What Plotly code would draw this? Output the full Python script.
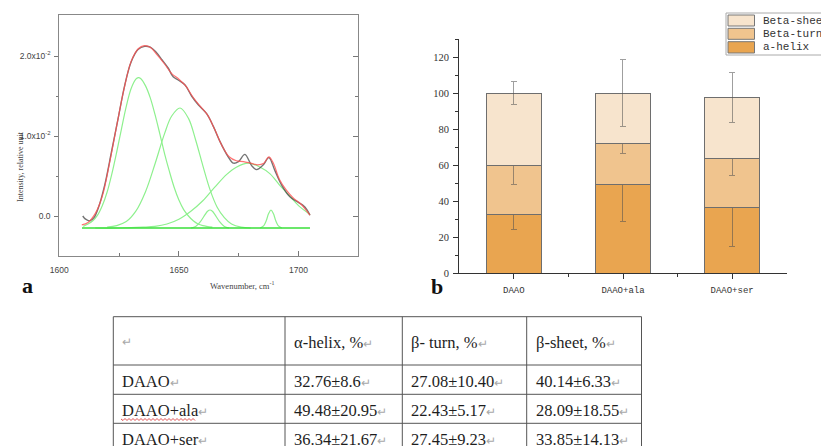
import plotly.graph_objects as go

W, H = 829, 446
OFF = 8  # the page body adds an 8px margin; positions below are window pixels

# ---------------- Panel a: FTIR amide I band deconvolution ----------------
wn_data = [1609.8, 1611.0, 1612.8, 1614.5, 1616.3, 1619.0, 1621.8, 1624.6, 1627.4, 1630.1,
           1632.9, 1635.7, 1638.0, 1640.4, 1643.0, 1645.5, 1647.6, 1649.7, 1652.5, 1655.3,
           1658.1, 1661.6, 1664.4, 1667.2, 1670.6, 1672.8, 1674.9, 1677.6, 1680.4, 1682.5,
           1685.3, 1687.6, 1690.1, 1692.9, 1696.4, 1699.9, 1702.0, 1703.5, 1704.8]
int_data = [0.0000, -0.0004, -0.0006, -0.0002, 0.0010, 0.0039, 0.0080, 0.0122, 0.0164, 0.0193,
            0.0208, 0.0212, 0.0211, 0.0205, 0.0195, 0.0185, 0.0174, 0.0170, 0.0164, 0.0150,
            0.0139, 0.0128, 0.0112, 0.0093, 0.0074, 0.0066, 0.0068, 0.0077, 0.0063, 0.0058,
            0.0064, 0.0073, 0.0057, 0.0039, 0.0024, 0.0017, 0.0013, 0.0008, 0.0001]

wn_fit = [1609.4, 1612.0, 1615.0, 1618.0, 1621.0, 1624.0, 1627.0, 1630.0, 1633.0, 1635.5,
          1638.0, 1641.0, 1644.0, 1647.0, 1650.0, 1653.0, 1656.0, 1659.0, 1662.0, 1665.0,
          1668.0, 1671.0, 1674.0, 1677.0, 1680.0, 1683.0, 1685.5, 1687.6, 1689.5, 1692.0,
          1695.0, 1698.0, 1701.0, 1703.0, 1704.8]
int_fit = [-0.0011, -0.0008, 0.0003, 0.0025, 0.0066, 0.0113, 0.0158, 0.0193, 0.0209, 0.0213,
           0.0211, 0.0201, 0.0190, 0.0178, 0.0171, 0.0162, 0.0148, 0.0137, 0.0126, 0.0108,
           0.0088, 0.0074, 0.0069, 0.0068, 0.0066, 0.0064, 0.0066, 0.0074, 0.0066, 0.0046,
           0.0032, 0.0022, 0.0015, 0.0008, 0.0001]

g1_wn = [1610, 1612, 1614, 1616, 1618, 1620, 1622, 1624, 1626, 1628, 1630, 1632, 1633, 1634,
         1636, 1638, 1640, 1642, 1644, 1646, 1648, 1650, 1652, 1654, 1656, 1658, 1660, 1664]
g1_int = [-0.0013, -0.0010, -0.0006, 0.0001, 0.0013, 0.0030, 0.0053, 0.0080, 0.0109, 0.0137,
          0.0159, 0.0171, 0.0173, 0.0172, 0.0163, 0.0148, 0.0127, 0.0103, 0.0078, 0.0056,
          0.0036, 0.0020, 0.0008, 0.0000, -0.0006, -0.0010, -0.0012, -0.0014]

g2_wn = [1620, 1624, 1628, 1632, 1636, 1640, 1644, 1647, 1650.5, 1654, 1657, 1660, 1663,
         1666, 1669, 1672, 1676, 1680]
g2_int = [-0.0014, -0.0012, -0.0007, 0.0006, 0.0030, 0.0065, 0.0103, 0.0125, 0.0135, 0.0122,
          0.0095, 0.0063, 0.0033, 0.0011, -0.0002, -0.0010, -0.0014, -0.0015]

g3_wn = [1655, 1657, 1659, 1661, 1662, 1663, 1664, 1665, 1667, 1669, 1671]
g3_int = [-0.0015, -0.0013, -0.0007, 0.0002, 0.0006, 0.00075, 0.0006, 0.0002, -0.0007,
          -0.0013, -0.0015]

g4_wn = [1615, 1625, 1635, 1640, 1645, 1650, 1655, 1660, 1665, 1670, 1674, 1679, 1684, 1688,
         1692, 1696, 1700, 1704.8]
g4_int = [-0.0015, -0.0015, -0.0014, -0.0013, -0.0010, -0.0004, 0.0006, 0.0019, 0.0036, 0.0052,
          0.0061, 0.0066, 0.0061, 0.0053, 0.0039, 0.0026, 0.0013, 0.0002]

g5_wn = [1684, 1685.5, 1686.5, 1687.5, 1688.5, 1689.5, 1690.5, 1691.5, 1693]
g5_int = [-0.0015, -0.0012, -0.0006, 0.0003, 0.00075, 0.0003, -0.0006, -0.0012, -0.0015]

base_wn = [1609.5, 1704.8]
base_int = [-0.0015, -0.0015]

a_xticks = [1600, 1650, 1700]
a_yticks = [0.0, 0.01, 0.02]
a_yticktext = ["0.0", "1.0x10<sup>-2</sup>", "2.0x10<sup>-2</sup>"]

# ---------------- Panel b: secondary structure content ----------------
samples = ["DAAO", "DAAO+ala", "DAAO+ser"]
helix = [32.76, 49.48, 36.34]
helix_sd = ["8.6", "20.95", "21.67"]
turn = [27.08, 22.43, 27.45]
turn_sd = ["10.40", "5.17", "9.23"]
sheet = [40.14, 28.09, 33.85]
sheet_sd = ["6.33", "18.55", "14.13"]
series_names = ["a-helix", "Beta-turn", "Beta-sheet"]
series_colors = ["#E9A550", "#F0C48E", "#F7E4CD"]
table_headers = ["α-helix, %", "β- turn, %", "β-sheet, %"]


def px(x):
    return (x - OFF) / W


def py(y):
    return 1 - (y - OFF) / H


fig = go.Figure()

green = "#8EF08E"
for gx, gy in [(g1_wn, g1_int), (g2_wn, g2_int), (g3_wn, g3_int), (g4_wn, g4_int), (g5_wn, g5_int)]:
    fig.add_trace(go.Scatter(x=gx, y=gy, mode="lines", line=dict(color=green, width=1.2, shape="spline"),
                             showlegend=False))
fig.add_trace(go.Scatter(x=base_wn, y=base_int, mode="lines", line=dict(color="#3ADF3A", width=1.3),
                         showlegend=False, yaxis="y3"))
fig.add_trace(go.Scatter(x=wn_data, y=int_data, mode="lines",
                         line=dict(color="rgba(70,70,70,0.75)", width=1.4, shape="spline"), showlegend=False))
fig.add_trace(go.Scatter(x=wn_fit, y=int_fit, mode="lines",
                         line=dict(color="rgba(255,80,80,0.8)", width=1.2, shape="spline"), showlegend=False))

# stacked bars with error bars at each segment top
xs = list(range(len(samples)))
for vals, sds, name, col in [(helix, helix_sd, series_names[0], series_colors[0]),
                             (turn, turn_sd, series_names[1], series_colors[1]),
                             (sheet, sheet_sd, series_names[2], series_colors[2])]:
    fig.add_trace(go.Bar(x=xs, y=vals, name=name, width=0.5, xaxis="x2", yaxis="y2",
                         marker=dict(color=col, line=dict(color="#6E6E6E", width=1.2)),
                         error_y=dict(type="data", array=[float(s) for s in sds], visible=True,
                                      color="rgba(80,80,80,0.55)", thickness=1, width=3),
                         showlegend=False))

axis_font_a = dict(family="Liberation Sans", size=8.5, color="#444")
fig.update_layout(
    width=W, height=H, margin=dict(l=0, r=0, t=0, b=0, autoexpand=False),
    paper_bgcolor="white", plot_bgcolor="white", barmode="stack", bargap=0.5,
    xaxis=dict(domain=[px(59.3), px(358.3)], range=[1600, 1725], anchor="y", automargin=False,
               showline=True, linecolor="#888", linewidth=1, mirror=True, showgrid=False, zeroline=False,
               tickvals=a_xticks, ticks="inside", ticklen=5, tickcolor="#777",
               minor=dict(tickvals=[1625, 1675], ticks="inside", ticklen=3, tickcolor="#777"),
               tickfont=axis_font_a, ticklabelstandoff=6),
    yaxis=dict(domain=[py(256), py(15)], range=[-0.005, 0.025125], anchor="x", automargin=False,
               showline=True, linecolor="#888", linewidth=1, mirror=True, showgrid=False, zeroline=False,
               tickvals=a_yticks, ticktext=a_yticktext, ticks="outside", ticklen=4, tickcolor="#777",
               minor=dict(tickvals=[0.005, 0.015], ticks="outside", ticklen=2, tickcolor="#777"),
               tickfont=axis_font_a, ticklabelstandoff=2),
    yaxis3=dict(overlaying="y", side="right", anchor="x", range=[-0.005, 0.025125], automargin=False,
                showline=False, showgrid=False, zeroline=False, showticklabels=False,
                tickvals=a_yticks, ticks="inside", ticklen=5, tickcolor="#777",
                minor=dict(tickvals=[0.005, 0.015], ticks="inside", ticklen=3, tickcolor="#777")),
    xaxis2=dict(domain=[px(459.3), px(786.7)], range=[-0.5, 2.5], anchor="y2", automargin=False,
                showline=True, linecolor="#333", linewidth=1.2, showgrid=False, zeroline=False,
                tickvals=xs, ticktext=samples, ticks="outside", ticklen=5, tickcolor="#333",
                minor=dict(tickvals=[0.5, 1.5], ticks="outside", ticklen=3, tickcolor="#333"),
                tickfont=dict(family="Liberation Mono", size=9, color="#333"), ticklabelstandoff=3),
    yaxis2=dict(domain=[py(273.3), py(39.3)], range=[0, 130], anchor="x2", automargin=False,
                showline=True, linecolor="#333", linewidth=1.2, showgrid=False, zeroline=False,
                tickvals=[0, 20, 40, 60, 80, 100, 120], ticks="outside", ticklen=5, tickcolor="#333",
                minor=dict(dtick=10, ticks="outside", ticklen=3, tickcolor="#333"),
                tickfont=dict(family="Liberation Serif", size=10.5, color="#333"), ticklabelstandoff=2),
)

shapes = []
annotations = []

# panel labels and axis titles
annotations.append(dict(x=px(20), y=py(285), xref="paper", yref="paper", text="<b>a</b>", showarrow=False,
                        font=dict(family="Liberation Serif", size=22, color="#111")))
annotations.append(dict(x=px(437), y=py(286), xref="paper", yref="paper", text="<b>b</b>", showarrow=False,
                        font=dict(family="Liberation Serif", size=22, color="#111")))
annotations.append(dict(x=px(208), y=py(285), xref="paper", yref="paper",
                        text="Wavenumber, cm<sup>-1</sup>", showarrow=False,
                        font=dict(family="Liberation Serif", size=8.5, color="#444")))
annotations.append(dict(x=px(14), y=py(129), xref="paper", yref="paper",
                        text="Intensity, relative unit", showarrow=False, textangle=-90,
                        font=dict(family="Liberation Serif", size=8, color="#444")))

# legend box (panel b), drawn to match the reference's wide swatches
shapes.append(dict(type="rect", xref="paper", yref="paper", x0=px(726), x1=px(845), y0=py(55), y1=py(13),
                   line=dict(color="#AAAAAA", width=1), fillcolor="white"))
leg_rows = [(15, 26, 20.5), (28.3, 39.3, 34), (41.7, 53, 47.5)]
leg_order = [2, 1, 0]
for (t, b, c), k in zip(leg_rows, leg_order):
    shapes.append(dict(type="rect", xref="paper", yref="paper", x0=px(728), x1=px(754.5), y0=py(b), y1=py(t),
                       line=dict(color="#777", width=1), fillcolor=series_colors[k]))
    annotations.append(dict(x=px(761), y=py(c), xref="paper", yref="paper", text=series_names[k],
                            showarrow=False, xanchor="left", yanchor="middle",
                            font=dict(family="Liberation Mono", size=11, color="#333")))

# table
col_x = [113.3, 285, 402.3, 526.7, 641.5]
row_y = [316.7, 365, 394.3, 423.3, 452.3]
for xv in col_x:
    shapes.append(dict(type="line", xref="paper", yref="paper", x0=px(xv), x1=px(xv),
                       y0=py(row_y[0]), y1=py(row_y[-1]), line=dict(color="#555", width=1)))
for yv in row_y:
    shapes.append(dict(type="line", xref="paper", yref="paper", x0=px(col_x[0]), x1=px(col_x[-1]),
                       y0=py(yv), y1=py(yv), line=dict(color="#555", width=1)))

ret = "<span style='color:#A8A8A8;font-size:12px'>↵</span>"
tfont = dict(family="Liberation Serif", size=16.5, color="#1E1E1E")
header_row = [""] + table_headers
for j, txt in enumerate(header_row):
    annotations.append(dict(x=px(col_x[j] + 7), y=py(342), xref="paper", yref="paper", text=txt + ret,
                            showarrow=False, xanchor="left", yanchor="middle", font=tfont))
for i, name in enumerate(samples):
    cy = (row_y[i + 1] + row_y[i + 2]) / 2 + 2
    cells = [name,
             f"{helix[i]:.2f}±{helix_sd[i]}",
             f"{turn[i]:.2f}±{turn_sd[i]}",
             f"{sheet[i]:.2f}±{sheet_sd[i]}"]
    for j, txt in enumerate(cells):
        annotations.append(dict(x=px(col_x[j] + 7), y=py(cy), xref="paper", yref="paper", text=txt + ret,
                                showarrow=False, xanchor="left", yanchor="middle", font=tfont))

# spell-check wavy underline under "DAAO+ala"
path = f"M {px(121)} {py(419)}"
xz, k = 121.0, 0
while xz < 194:
    xz += 2
    k += 1
    path += f" L {px(xz)} {py(419 + (1.5 if k % 2 else -0.5))}"
shapes.append(dict(type="path", xref="paper", yref="paper", path=path, line=dict(color="#E05050", width=1)))

fig.update_layout(shapes=shapes, annotations=annotations)
fig.write_html("out.html")
